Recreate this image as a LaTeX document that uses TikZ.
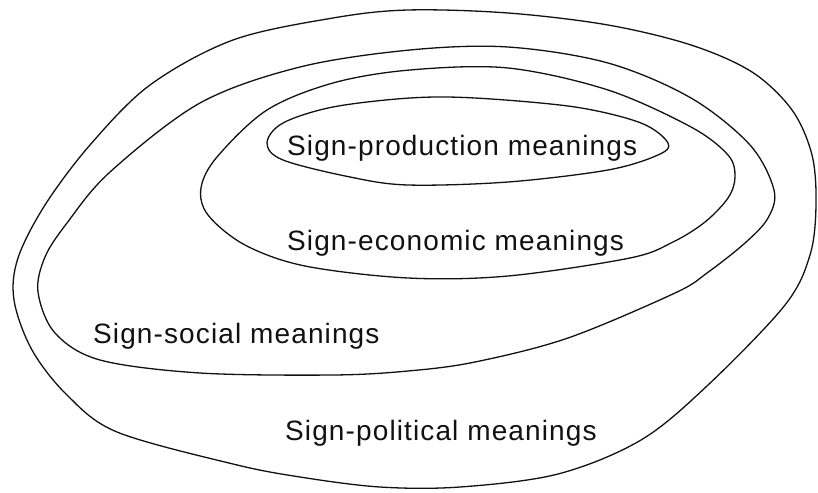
\documentclass[tikz,border=0pt]{standalone}
\usepackage{fontspec}
\setmainfont{Liberation Sans}
\usepackage{tikz}
\usetikzlibrary{positioning}
\definecolor{rink}{HTML}{111111}
\tikzset{
  ring/.style ={draw=rink, line width=1.3pt, smooth cycle, tension=0.55},
  lbl/.style  ={anchor=base west, inner sep=0pt, text=rink,
                font=\fontsize{28}{32}\selectfont\addfontfeature{LetterSpace=4}},
}

\begin{document}
\begin{tikzpicture}[x=1pt, y=-1pt]
  \useasboundingbox (0,0) rectangle (818,492);
  % political
  \draw[ring] plot coordinates {(408,10) (508,13) (608,25) (691,45) (752,72) (792,110)
    (812,155) (816,205) (810,255) (785,305) (708,385) (641,440) (558,474)
    (460,487) (380,487) (300,477) (233,464) (117,432) (67,395) (32,350) (14,300)
    (18,258) (45,205) (90,145) (150,85) (233,40) (333,18)};
  % social
  \draw[ring] plot coordinates {(410,50) (508,47) (608,63) (691,98) (750,145) (774,190)
    (768,218) (745,243) (707,273) (675,293) (568,338) (475,362) (408,371) (333,375)
    (200,373) (100,360) (55,333) (38,292) (45,257) (67,223) (110,172)
    (200,103) (300,67)};
  % economic
  \draw[ring] plot coordinates {(410,70) (508,68) (608,90) (691,127) (728,155) (735,177)
    (728,198) (705,222) (673,242) (630,258) (508,276) (408,278) (305,266)
    (245,245) (208,215) (201,188) (217,157) (267,110) (333,83)};
  % production
  \draw[ring] plot coordinates {(410,98) (475,98) (575,107) (641,123) (668,143) (658,155)
    (608,170) (508,182) (408,185) (350,177) (283,160) (267,143) (283,123) (333,107)};
  \node[lbl] (prod) at (287,155) {Sign-production meanings};
  \node[lbl] (econ) at (287,250) {Sign-economic meanings};
  \node[lbl] (soc)  at (93,343)  {Sign-social meanings};
  \node[lbl] (pol)  at (285,440) {Sign-political meanings};
\end{tikzpicture}
\end{document}
